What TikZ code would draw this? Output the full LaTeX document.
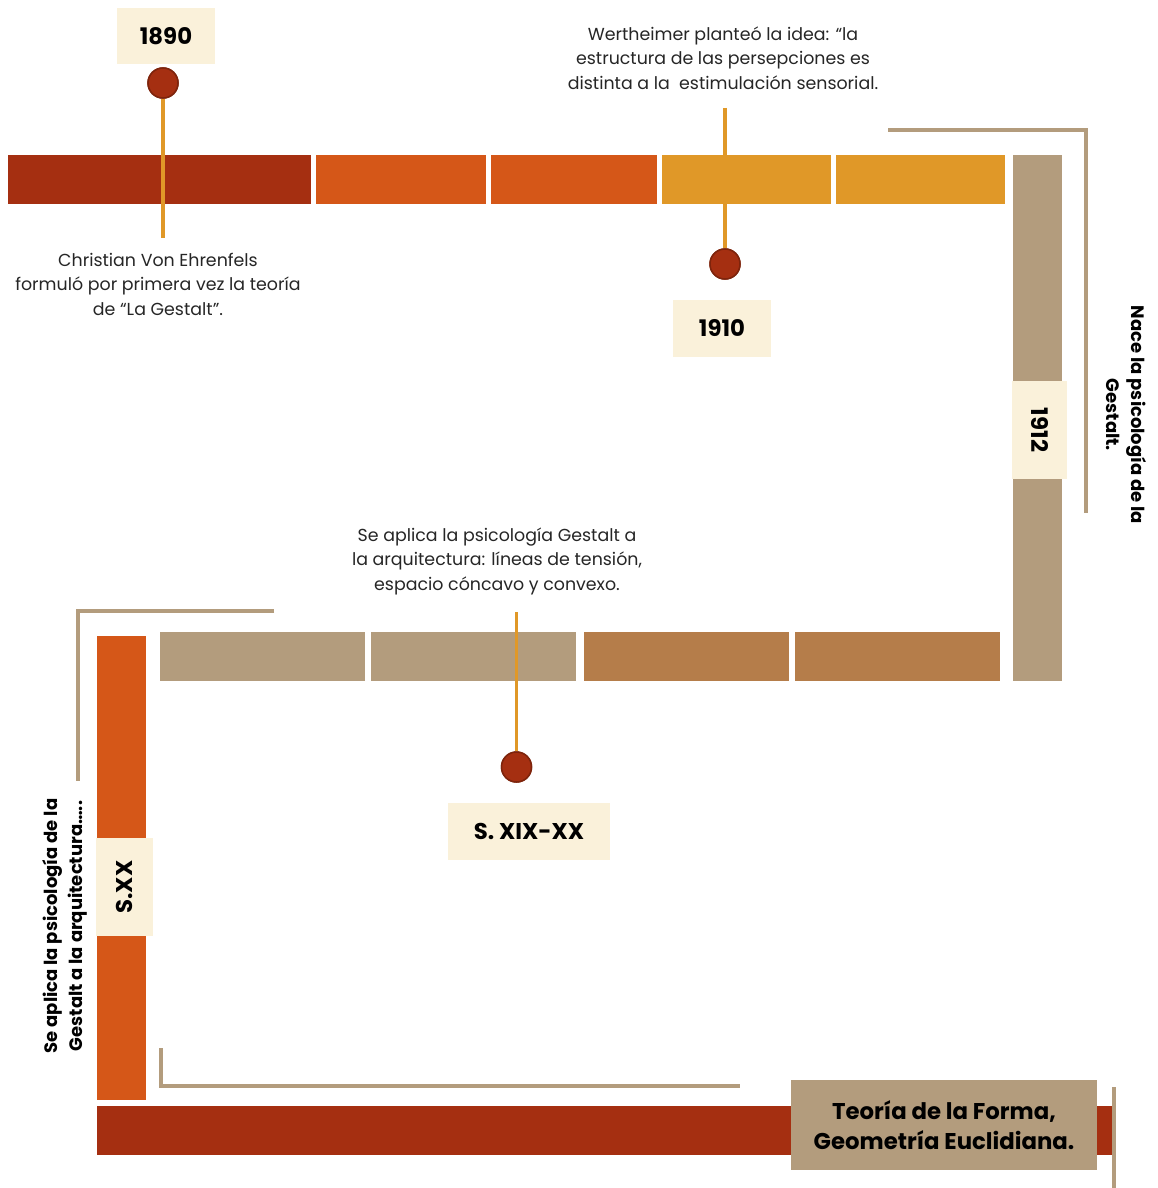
\documentclass[tikz,border=0pt]{standalone}
\usepackage{fontspec}
\setmainfont{Poppins}
\usetikzlibrary{positioning}
\definecolor{rust}{HTML}{A52F11}
\definecolor{rustdark}{HTML}{7E240C}
\definecolor{flame}{HTML}{D55718}
\definecolor{amber}{HTML}{E09828}
\definecolor{tan}{HTML}{B39C7D}
\definecolor{bronze}{HTML}{B57D4A}
\definecolor{cream}{HTML}{FAF1DA}
\definecolor{ink}{HTML}{262626}
\newcommand{\notefont}{\fontsize{17.4}{24.5}\selectfont}
\newcommand{\yearfont}{\fontsize{22.8}{26}\selectfont\bfseries}
\newcommand{\sidefont}{\fontsize{18}{25}\selectfont\bfseries}
\tikzset{
  seg/.style    ={rectangle, inner sep=0pt, anchor=north west, minimum height=49pt},
  vseg/.style   ={rectangle, inner sep=0pt, anchor=north west, minimum width=49pt},
  yearbox/.style={rectangle, fill=cream, inner sep=0pt, font=\yearfont},
  pin/.style    ={circle, fill=rust, draw=rustdark, line width=1.5pt,
                  minimum size=30pt, inner sep=0pt},
  stem/.style   ={draw=amber, line width=3.5pt},
  bracket/.style={draw=tan, line width=4pt},
  note/.style   ={align=center, font=\notefont, text=ink, inner sep=0pt},
  sidenote/.style={align=center, font=\sidefont, inner sep=0pt},
}
\begin{document}
\begin{tikzpicture}[x=1pt, y=-1pt]
\useasboundingbox[fill=white] (0,0) rectangle (1158,1188);

% ---- brackets ----
\coordinate (tr1) at (888,130);  \coordinate (tr2) at (1086,130);  \coordinate (tr3) at (1086,513);
\draw[bracket] (tr1) -- (tr2) -- (tr3);
\coordinate (ml1) at (274,611);  \coordinate (ml2) at (78,611);    \coordinate (ml3) at (78,781);
\draw[bracket] (ml1) -- (ml2) -- (ml3);
\coordinate (bl1) at (161,1048); \coordinate (bl2) at (161,1086);  \coordinate (bl3) at (740,1086);
\draw[bracket] (bl1) -- (bl2) -- (bl3);
\coordinate (br1) at (1114,1087); \coordinate (br2) at (1114,1188);
\draw[bracket] (br1) -- (br2);

% ---- top row ----
\node[seg, fill=rust,  minimum width=303pt] (t1) at (8,155) {};
\node[seg, fill=flame, minimum width=170pt] (t2) at (316,155) {};
\node[seg, fill=flame, minimum width=166pt] (t3) at (491,155) {};
\node[seg, fill=amber, minimum width=169pt] (t4) at (662,155) {};
\node[seg, fill=amber, minimum width=169pt] (t5) at (836,155) {};

% ---- right column ----
\node[vseg, fill=tan, minimum height=526pt] (r1) at (1013,155) {};

% ---- middle row ----
\node[seg, fill=tan,    minimum width=205pt] (m1) at (160,632) {};
\node[seg, fill=tan,    minimum width=205pt] (m2) at (371,632) {};
\node[seg, fill=bronze, minimum width=205pt] (m3) at (584,632) {};
\node[seg, fill=bronze, minimum width=205pt] (m4) at (795,632) {};

% ---- left column and bottom row ----
\node[vseg, fill=flame, minimum height=464pt] (l1) at (97,636) {};
\node[seg, fill=rust, minimum width=1015pt] (b1) at (97,1106) {};

% ---- 1890 ----
\node[yearbox, minimum width=98pt, minimum height=56pt] (y1890) at (166,36) {1890};
\node[pin] (p1890) at (163,83) {};
\coordinate (s1890) at (163,238);
\draw[stem] (p1890) -- (s1890);
\node[pin] at (p1890) {};
\node[note] (n1890) at (158,284) {Christian Von Ehrenfels\\formuló por primera vez la teoría\\de “La Gestalt”.};

% ---- 1910 ----
\coordinate (s1910) at (725,108);
\node[pin] (p1910) at (725,264) {};
\draw[stem] (s1910) -- (p1910);
\node[pin] at (p1910) {};
\node[yearbox, minimum width=98pt, minimum height=57pt] (y1910) at (722,328) {1910};
\node[note] (n1910) at (723,58) {Wertheimer planteó la idea: “la\\estructura de las persepciones es\\distinta a la\ \ estimulación sensorial.};

% ---- 1912 ----
\node[yearbox, rotate=-90, minimum width=98pt, minimum height=55pt] (y1912) at (1039.5,430) {1912};
\node[sidenote, rotate=-90] (n1912) at (1126,415) {Nace la psicología de la\\Gestalt.};

% ---- S. XIX-XX ----
\coordinate (sxix) at (516.5,612);
\node[pin] (pxix) at (516.5,767) {};
\draw[stem] (sxix) -- (pxix);
\node[pin] at (pxix) {};
\node[yearbox, minimum width=162pt, minimum height=57pt] (yxix) at (529,831) {S. XIX-XX\hspace{16pt}};
\node[note] (nxix) at (497,561) {Se aplica la psicología Gestalt a\\la arquitectura: líneas de tensión,\\espacio cóncavo y convexo.};

% ---- S.XX ----
\node[yearbox, rotate=90, minimum width=98pt, minimum height=57pt] (yxx) at (124.5,887) {S.XX};
\node[sidenote, rotate=90] (nxx) at (65,926) {Se aplica la psicología de la\\Gestalt a la arquitectura…..};

% ---- end ----
\node[rectangle, fill=tan, minimum width=306pt, minimum height=90pt, inner sep=0pt,
      align=center, font=\fontsize{22.8}{30}\selectfont\bfseries] (fin) at (944,1125)
      {Teoría de la Forma,\\Geometría Euclidiana.};

\end{tikzpicture}
\end{document}
